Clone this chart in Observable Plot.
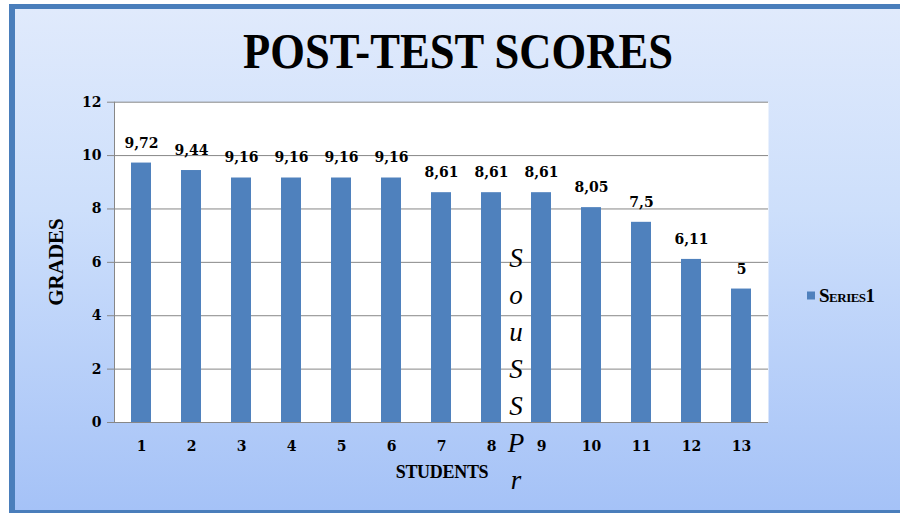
<!DOCTYPE html>
<html>
<head>
<meta charset="utf-8">
<script src="https://cdn.jsdelivr.net/npm/d3@7"></script>
<script src="https://cdn.jsdelivr.net/npm/@observablehq/plot@0.6"></script>
<style>
  html, body { margin: 0; padding: 0; background: #ffffff; width: 900px; height: 513px; overflow: hidden; }
  #page { position: relative; width: 900px; height: 513px; overflow: hidden; }
  #frame {
    position: absolute; left: 9px; top: 4px; width: 960px; height: 509px; box-sizing: border-box;
    border-left: 6px solid #4a7ebb; border-top: 5px solid #4a7ebb; border-bottom: 3px solid #4a7ebb; border-right: none;
    background: linear-gradient(to bottom, #e0eafc 0%, #cddffb 40%, #a5c2f7 100%);
  }
  #chart { position: absolute; left: 0; top: 0; }
  #title {
    position: absolute; left: 458px; top: 51px; white-space: nowrap;
    font-family: "Liberation Serif", "DejaVu Serif", serif; font-weight: bold; font-size: 51px; color: #000;
    transform-origin: center center; line-height: 1;
  }
  .lbl { position: absolute; white-space: nowrap; color: #000; line-height: 1; }
  #ylabel {
    left: 56px; top: 262px; transform: translate(-50%, -50%) rotate(-90deg);
    font-family: "Liberation Serif", serif; font-weight: bold; font-size: 21px;
  }
  #xlabel {
    left: 442px; top: 472px; transform: translate(-50%, -50%);
    font-family: "Liberation Serif", serif; font-weight: bold; font-size: 18px; font-variant: small-caps; letter-spacing: -0.3px;
  }
  #legend {
    left: 807px; top: 295px; transform: translateY(-50%); display: flex; align-items: center; gap: 4px;
    font-family: "Liberation Serif", serif; font-weight: bold; font-size: 19px; font-variant: small-caps; letter-spacing: -0.5px;
  }
  #legend .sw { width: 8px; height: 8px; background: #4f81bd; display: inline-block; }
  #vert {
    left: 516px; top: 258px; transform: translateX(-50%);
    font-family: "Liberation Serif", serif; font-style: italic; font-size: 27px; text-align: center;
  }
  #vert div { height: 37px; line-height: 0; }
</style>
</head>
<body>
<div id="page">
  <div id="frame"></div>
  <div id="chart"></div>
</div>
<script>
const title = "POST-TEST SCORES";
const yLabel = "GRADES";
const xLabel = "STUDENTS";
const seriesName = "Series1";
const students = ["1","2","3","4","5","6","7","8","9","10","11","12","13"];
const grades = [9.72, 9.44, 9.16, 9.16, 9.16, 9.16, 8.61, 8.61, 8.61, 8.05, 7.5, 6.11, 5];
const yTicks = [0, 2, 4, 6, 8, 10, 12];
const strayLetters = ["S", "o", "u", "S", "S", "P", "r"];

const data = students.map((s, i) => ({student: s, grade: grades[i], label: String(grades[i]).replace(".", ",")}));

const plot = Plot.plot({
  width: 900,
  height: 513,
  marginLeft: 114,
  marginRight: 132,
  marginTop: 101.7,
  marginBottom: 91,
  style: {background: "transparent", fontFamily: "'DejaVu Serif', serif", fontSize: "14px", fontWeight: "bold", color: "#000", overflow: "visible"},
  x: {domain: students, paddingInner: 0.6, paddingOuter: 0.3, axis: null},
  y: {domain: [0, 12], axis: null},
  marks: [
    Plot.frame({fill: "white", stroke: "none"}),
    Plot.gridY(yTicks, {stroke: "#878787", strokeOpacity: 1, strokeWidth: 1}),
    Plot.frame({anchor: "left", stroke: "#878787"}),
    Plot.barY(data, {x: "student", y: "grade", fill: "#4f81bd"}),
    Plot.text(data, {x: "student", y: "grade", text: "label", dy: -20, fill: "#000", fontSize: 14, fontWeight: "bold"}),
    Plot.axisY({ticks: yTicks, tickSize: 7, tickPadding: 6, stroke: "#878787", fill: "#000", label: null, fontSize: 14}),
    Plot.axisX({tickSize: 0, tickPadding: 19, fill: "#000", label: null, fontSize: 14})
  ]
});
document.getElementById("chart").appendChild(plot);

const page = document.getElementById("page");
function addLabel(id, text) {
  const d = document.createElement("div");
  d.id = id; d.className = "lbl"; d.textContent = text;
  page.appendChild(d);
  return d;
}
const t = document.createElement("div");
t.id = "title"; t.textContent = title;
page.appendChild(t);
const w = t.getBoundingClientRect().width;
t.style.transform = `translate(-50%, -50%) scaleX(${430 / w})`;

addLabel("ylabel", yLabel);
addLabel("xlabel", xLabel);

const leg = document.createElement("div");
leg.id = "legend"; leg.className = "lbl";
const sw = document.createElement("span"); sw.className = "sw";
const lt = document.createElement("span"); lt.textContent = seriesName;
leg.appendChild(sw); leg.appendChild(lt);
page.appendChild(leg);

const v = document.createElement("div");
v.id = "vert"; v.className = "lbl";
strayLetters.forEach(c => { const d = document.createElement("div"); d.textContent = c; v.appendChild(d); });
page.appendChild(v);
</script>
</body>
</html>
